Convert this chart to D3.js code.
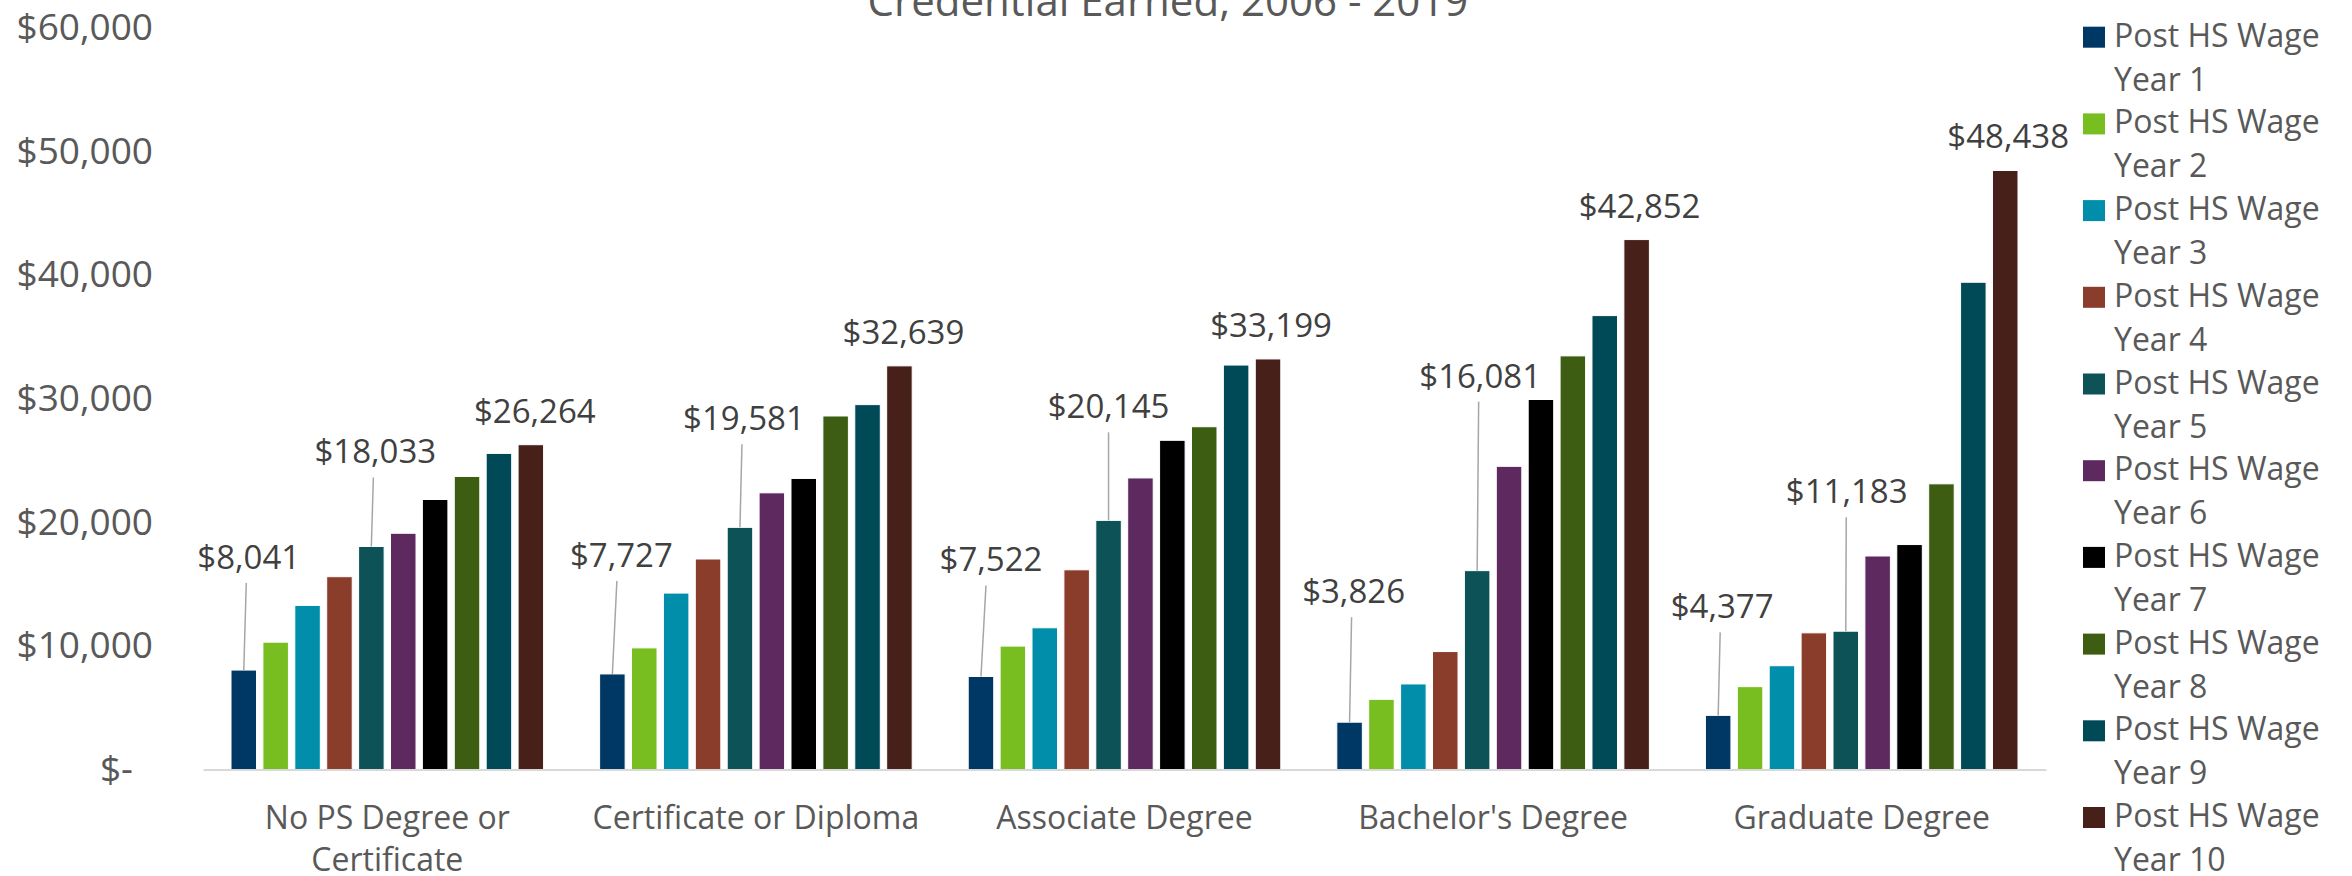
<!DOCTYPE html>
<html><head><meta charset="utf-8">
<script src="https://cdn.jsdelivr.net/npm/d3@7"></script>
<style>
body{margin:0;background:#fff;}
svg{display:block;font-family:"Open Sans",sans-serif;}
</style>
</head><body>
<svg id="chart" width="2352" height="876"></svg>
<script>
// ---- data ----
const categories = ["No PS Degree or Certificate", "Certificate or Diploma", "Associate Degree", "Bachelor's Degree", "Graduate Degree"];
const seriesNames = ["Post HS Wage Year 1", "Post HS Wage Year 2", "Post HS Wage Year 3", "Post HS Wage Year 4", "Post HS Wage Year 5",
                     "Post HS Wage Year 6", "Post HS Wage Year 7", "Post HS Wage Year 8", "Post HS Wage Year 9", "Post HS Wage Year 10"];
const year1  = [8041, 7727, 7522, 3826, 4377];
const year2  = [10295, 9835, 9979, 5675, 6700];
const year3  = [13267, 14266, 11459, 6918, 8390];
const year4  = [15591, 17022, 16147, 9537, 11050];
const year5  = [18033, 19581, 20145, 16081, 11183];
const year6  = [19103, 22372, 23576, 24515, 17265];
const year7  = [21833, 23534, 26620, 29920, 18190];
const year8  = [23697, 28586, 27716, 33446, 23100];
const year9  = [25561, 29505, 32705, 36704, 39400];
const year10 = [26264, 32639, 33199, 42852, 48438];
const yTicks = [0, 10000, 20000, 30000, 40000, 50000, 60000];
const titleText = "Credential Earned, 2006 - 2019";
const labelledSeries = [0, 4, 9];

// ---- styles ----
const colors = ["#003865", "#78BE21", "#008EAA", "#8B3D2C", "#0D5257", "#5D295F", "#000000", "#3D5E12", "#004957", "#47201A"];
const labelLift  = {0: [101, 107, 105, 119, 97], 4: [83, 97, 102, 183, 128], 9: [22, 22, 22, 22, 22]};
const labelShift = {0: [5, 9, 10, 4, 4],        4: [4, 4, 0, 3, 1],          9: [4, 4, 3, 3, 3]};

const values = [year1, year2, year3, year4, year5, year6, year7, year8, year9, year10];

const svg = d3.select("#chart");
const plotLeft = 203, plotRight = 2046, plotTop = 27.5, plotBottom = 769.5;

const x0 = d3.scaleBand().domain(categories).range([plotLeft, plotRight]).paddingInner(0.152).paddingOuter(0.076);
const x1 = d3.scaleBand().domain(d3.range(seriesNames.length)).range([0, x0.bandwidth()]).paddingInner(0.2);
const y = d3.scaleLinear().domain([0, 60000]).range([plotBottom, plotTop]);

// title
svg.append("text").attr("x", 1168).attr("y", 16).attr("text-anchor", "middle")
  .attr("font-size", 42).attr("fill", "#595959").text(titleText);

// y axis labels
const fmt = d3.format(",");
const yAxis = svg.append("g").attr("transform", `translate(${plotLeft},0)`)
  .call(d3.axisLeft(y).tickValues(yTicks).tickSize(0).tickPadding(50)
        .tickFormat(d => d === 0 ? "$-" : "$" + fmt(d)));
yAxis.select(".domain").remove();
yAxis.selectAll("text").attr("font-family", "Open Sans").attr("font-size", 37).attr("fill", "#595959")
  .attr("dx", d => d === 0 ? -20 : 0);

// bars
const groups = svg.append("g").selectAll("g").data(categories).join("g")
  .attr("transform", d => `translate(${x0(d)},0)`);
groups.selectAll("rect").data((c, ci) => values.map((s, si) => ({si, ci, v: s[ci]}))).join("rect")
  .attr("x", d => x1(d.si)).attr("width", x1.bandwidth())
  .attr("y", d => y(d.v)).attr("height", d => y(0) - y(d.v))
  .attr("fill", d => colors[d.si]).attr("stroke", "#ffffff").attr("stroke-width", 1);

// x axis
const xAxis = svg.append("g").attr("transform", `translate(0,${plotBottom})`)
  .call(d3.axisBottom(x0).tickSize(0).tickSizeOuter(0).tickPadding(0));
xAxis.select(".domain").attr("stroke", "#D9D9D9").attr("stroke-width", 2);
xAxis.selectAll("text").attr("font-family", "Open Sans").attr("font-size", 32).attr("fill", "#595959")
  .attr("y", 0).attr("dy", null)
  .each(function(d) {
    const t = d3.select(this);
    const words = d.split(" ");
    t.text(null);
    const maxW = x0.step();
    let line = [], lines = [];
    let tspan = t.append("tspan");
    words.forEach(w => {
      line.push(w);
      tspan.text(line.join(" "));
      if (tspan.node().getComputedTextLength() > maxW && line.length > 1) {
        line.pop();
        lines.push(line.join(" "));
        line = [w];
        tspan.text(w);
      }
    });
    lines.push(line.join(" "));
    t.text(null);
    lines.forEach((l, i) => t.append("tspan").attr("x", 0).attr("y", 59 + i * 42).text(l));
  });

// data labels with leader lines
const labelData = [];
labelledSeries.forEach(si => {
  categories.forEach((c, ci) => {
    const v = values[si][ci];
    const cx = x0(c) + x1(si) + x1.bandwidth() / 2;
    labelData.push({si, ci, v, cx, top: y(v), lift: labelLift[si][ci], dx: labelShift[si][ci]});
  });
});
const lblG = svg.append("g");
lblG.selectAll("line").data(labelData.filter(d => d.lift > 40)).join("line")
  .attr("x1", d => d.cx + d.dx * 0.5).attr("y1", d => d.top - d.lift + 14)
  .attr("x2", d => d.cx).attr("y2", d => d.top)
  .attr("stroke", "#A6A6A6").attr("stroke-width", 1.5);
lblG.selectAll("text").data(labelData).join("text")
  .attr("x", d => d.cx + d.dx).attr("y", d => d.top - d.lift)
  .attr("text-anchor", "middle").attr("font-size", 33).attr("fill", "#404040")
  .text(d => "$" + fmt(d.v));

// legend
const leg = svg.append("g").selectAll("g").data(seriesNames).join("g")
  .attr("transform", (d, i) => `translate(2083,${46.7 + i * 86.7})`);
leg.append("rect").attr("x", 0).attr("y", -20).attr("width", 22).attr("height", 21)
  .attr("fill", (d, i) => colors[i]);
leg.append("text").attr("font-size", 32).attr("fill", "#595959")
  .each(function(d) {
    const idx = d.lastIndexOf(" Year");
    const t = d3.select(this);
    t.append("tspan").attr("x", 31).attr("y", 0).text(d.slice(0, idx));
    t.append("tspan").attr("x", 31).attr("y", 44).text(d.slice(idx + 1));
  });
</script>
</body></html>
